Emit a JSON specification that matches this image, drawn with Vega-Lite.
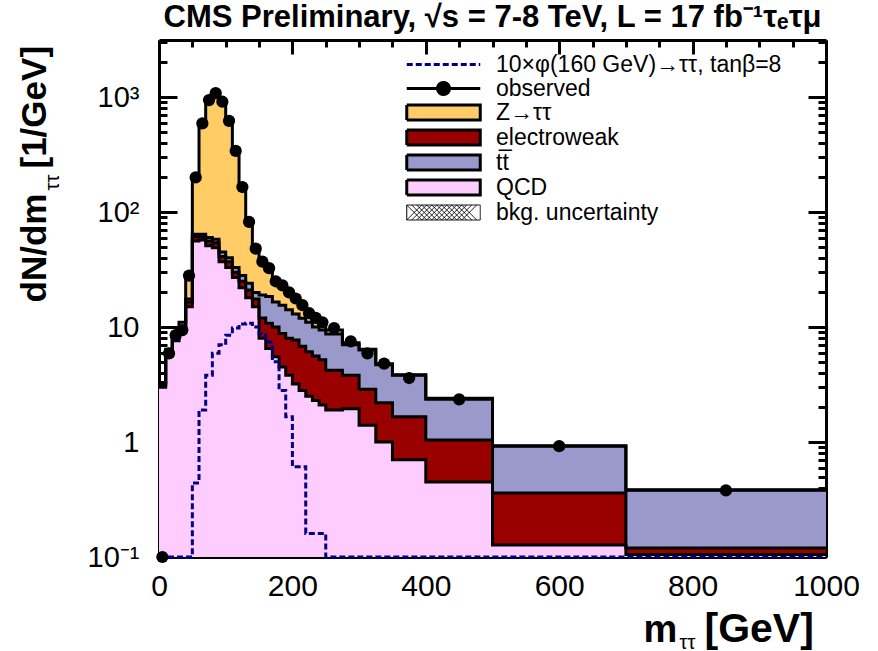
{
  "$schema": "https://vega.github.io/schema/vega-lite/v6.json",
  "width": 667,
  "height": 517,
  "autosize": {"type": "none"},
  "padding": {"left": 159, "top": 40, "right": 52, "bottom": 94},
  "background": "white",
  "view": {"stroke": null},
  "title": {
    "text": "CMS Preliminary, √s = 7-8 TeV, L = 17 fb⁻¹τₑτμ",
    "font": "Liberation Sans",
    "fontWeight": "bold",
    "fontSize": 31,
    "color": "black",
    "anchor": "middle",
    "offset": 5
  },
  "config": {
    "font": "Liberation Sans",
    "axis": {
      "grid": false,
      "tickColor": "black",
      "tickWidth": 3,
      "labelColor": "black",
      "labelFont": "Liberation Sans",
      "labelFlush": false,
      "labelOverlap": false,
      "titleColor": "black",
      "titleFont": "Liberation Sans",
      "titleFontWeight": "bold",
      "domainColor": "black",
      "domainWidth": 3,
      "zindex": 1
    }
  },
  "datasets": {
    "background": [
      {"lo": 0, "hi": 10, "QCD": 3.0, "EW": 0.1, "ttbar": 0.1, "Ztt": 0.1},
      {"lo": 10, "hi": 20, "QCD": 5.6, "EW": 0.2, "ttbar": 0.2, "Ztt": 0.4},
      {"lo": 20, "hi": 30, "QCD": 7.6, "EW": 0.3, "ttbar": 0.3, "Ztt": 0.6},
      {"lo": 30, "hi": 40, "QCD": 9.0, "EW": 0.4, "ttbar": 0.4, "Ztt": 1.2},
      {"lo": 40, "hi": 50, "QCD": 15, "EW": 1.5, "ttbar": 1.0, "Ztt": 10.5},
      {"lo": 50, "hi": 60, "QCD": 56, "EW": 5, "ttbar": 3, "Ztt": 141},
      {"lo": 60, "hi": 70, "QCD": 57, "EW": 4, "ttbar": 3, "Ztt": 526},
      {"lo": 70, "hi": 80, "QCD": 51, "EW": 5, "ttbar": 4, "Ztt": 880},
      {"lo": 80, "hi": 90, "QCD": 49, "EW": 5, "ttbar": 4, "Ztt": 1022},
      {"lo": 90, "hi": 100, "QCD": 37, "EW": 4, "ttbar": 4, "Ztt": 885},
      {"lo": 100, "hi": 110, "QCD": 33, "EW": 4, "ttbar": 3, "Ztt": 600},
      {"lo": 110, "hi": 120, "QCD": 27, "EW": 3, "ttbar": 3, "Ztt": 307},
      {"lo": 120, "hi": 130, "QCD": 22, "EW": 3, "ttbar": 3, "Ztt": 137},
      {"lo": 130, "hi": 140, "QCD": 18, "EW": 3, "ttbar": 3, "Ztt": 60},
      {"lo": 140, "hi": 150, "QCD": 15, "EW": 2.5, "ttbar": 2.5, "Ztt": 30},
      {"lo": 150, "hi": 160, "QCD": 8, "EW": 4, "ttbar": 7, "Ztt": 17},
      {"lo": 160, "hi": 170, "QCD": 6.5, "EW": 4.3, "ttbar": 7.6, "Ztt": 12.6},
      {"lo": 170, "hi": 180, "QCD": 5.5, "EW": 4.5, "ttbar": 6.5, "Ztt": 9.5},
      {"lo": 180, "hi": 190, "QCD": 4.5, "EW": 4.3, "ttbar": 6.7, "Ztt": 7.5},
      {"lo": 190, "hi": 200, "QCD": 3.8, "EW": 4.2, "ttbar": 6.1, "Ztt": 5.9},
      {"lo": 200, "hi": 210, "QCD": 3.2, "EW": 4.5, "ttbar": 5.3, "Ztt": 4.5},
      {"lo": 210, "hi": 220, "QCD": 2.8, "EW": 4.0, "ttbar": 5.1, "Ztt": 3.1},
      {"lo": 220, "hi": 230, "QCD": 2.5, "EW": 3.6, "ttbar": 4.9, "Ztt": 2.0},
      {"lo": 230, "hi": 240, "QCD": 2.3, "EW": 3.3, "ttbar": 4.4, "Ztt": 1.8},
      {"lo": 240, "hi": 250, "QCD": 2.1, "EW": 3.1, "ttbar": 4.2, "Ztt": 1.4},
      {"lo": 250, "hi": 275, "QCD": 1.9, "EW": 2.3, "ttbar": 4.5, "Ztt": 0.7},
      {"lo": 275, "hi": 300, "QCD": 1.95, "EW": 1.85, "ttbar": 3.2, "Ztt": 0.3},
      {"lo": 300, "hi": 325, "QCD": 1.4, "EW": 1.47, "ttbar": 3.43, "Ztt": 0.1},
      {"lo": 325, "hi": 350, "QCD": 1.0, "EW": 1.2, "ttbar": 2.5, "Ztt": 0.1},
      {"lo": 350, "hi": 400, "QCD": 0.7, "EW": 0.96, "ttbar": 2.14, "Ztt": 0.05},
      {"lo": 400, "hi": 500, "QCD": 0.45, "EW": 0.59, "ttbar": 1.31, "Ztt": 0.05},
      {"lo": 500, "hi": 700, "QCD": 0.127, "EW": 0.233, "ttbar": 0.56, "Ztt": 0.01},
      {"lo": 700, "hi": 1000, "QCD": 0.105, "EW": 0.015, "ttbar": 0.26, "Ztt": 0.005}
    ],
    "signal": [
      {"lo": 0, "hi": 10, "v": 0.01}, {"lo": 10, "hi": 20, "v": 0.01},
      {"lo": 20, "hi": 30, "v": 0.01}, {"lo": 30, "hi": 40, "v": 0.01},
      {"lo": 40, "hi": 50, "v": 0.01}, {"lo": 50, "hi": 60, "v": 0.44},
      {"lo": 60, "hi": 70, "v": 1.9}, {"lo": 70, "hi": 80, "v": 3.8},
      {"lo": 80, "hi": 90, "v": 5.9}, {"lo": 90, "hi": 100, "v": 7.0},
      {"lo": 100, "hi": 110, "v": 8.5}, {"lo": 110, "hi": 120, "v": 9.8},
      {"lo": 120, "hi": 130, "v": 10.6}, {"lo": 130, "hi": 140, "v": 10.8},
      {"lo": 140, "hi": 150, "v": 10.0}, {"lo": 150, "hi": 160, "v": 8.8},
      {"lo": 160, "hi": 170, "v": 7.4}, {"lo": 170, "hi": 180, "v": 5.0},
      {"lo": 180, "hi": 190, "v": 2.8}, {"lo": 190, "hi": 200, "v": 1.66},
      {"lo": 200, "hi": 210, "v": 0.61}, {"lo": 210, "hi": 220, "v": 0.61},
      {"lo": 220, "hi": 230, "v": 0.16}, {"lo": 230, "hi": 240, "v": 0.16},
      {"lo": 240, "hi": 250, "v": 0.16}, {"lo": 250, "hi": 275, "v": 0.02},
      {"lo": 275, "hi": 300, "v": 0.01}, {"lo": 300, "hi": 325, "v": 0.01},
      {"lo": 325, "hi": 350, "v": 0.01}, {"lo": 350, "hi": 400, "v": 0.01},
      {"lo": 400, "hi": 500, "v": 0.01}, {"lo": 500, "hi": 700, "v": 0.01},
      {"lo": 700, "hi": 1000, "v": 0.01}
    ],
    "observed": [
      {"m": 5, "n": 0.1}, {"m": 15, "n": 5.9}, {"m": 25, "n": 8.5},
      {"m": 35, "n": 9.4}, {"m": 45, "n": 28}, {"m": 55, "n": 200},
      {"m": 65, "n": 590}, {"m": 75, "n": 940}, {"m": 85, "n": 1080},
      {"m": 95, "n": 910}, {"m": 105, "n": 620}, {"m": 115, "n": 340},
      {"m": 125, "n": 165}, {"m": 135, "n": 82}, {"m": 145, "n": 48},
      {"m": 155, "n": 37}, {"m": 165, "n": 32.5}, {"m": 175, "n": 25},
      {"m": 185, "n": 23}, {"m": 195, "n": 20}, {"m": 205, "n": 17.7},
      {"m": 215, "n": 15.5}, {"m": 225, "n": 13.2}, {"m": 235, "n": 12},
      {"m": 245, "n": 11}, {"m": 262.5, "n": 9.8}, {"m": 287.5, "n": 7.5},
      {"m": 312.5, "n": 5.9}, {"m": 337.5, "n": 4.8}, {"m": 375, "n": 3.6},
      {"m": 450, "n": 2.35}, {"m": 600, "n": 0.92}, {"m": 850, "n": 0.38}
    ]
  },
  "resolve": {"axis": {"x": "independent", "y": "independent"}},
  "layer": [
    {
      "data": {"name": "background"},
      "transform": [
        {"fold": ["QCD", "EW", "ttbar", "Ztt"], "as": ["process", "v"]},
        {"stack": "v", "groupby": ["lo"], "as": ["below", "top"]},
        {"fold": ["lo", "hi"], "as": ["side", "m"]}
      ],
      "resolve": {"axis": {"x": "independent", "y": "independent"}},
      "encoding": {
        "color": {
          "field": "process",
          "type": "nominal",
          "scale": {
            "domain": ["signal", "observed", "Ztt", "EW", "ttbar", "QCD", "unc"],
            "range": ["transparent", "black", "#FFCC66", "#990000", "#9999CC", "#FFCCFF", "white"]
          },
          "legend": {
            "orient": "none",
            "legendX": 246,
            "legendY": 13,
            "title": null,
            "direction": "vertical",
            "padding": 0,
            "symbolSize": 400,
            "symbolOffset": 27,
            "labelOffset": 41,
            "labelFont": "Liberation Sans",
            "labelFontSize": 23,
            "labelColor": "black",
            "labelLimit": 400,
            "rowPadding": -5,
            "labelExpr": "datum.value === 'signal' ? '10×φ(160 GeV)→ττ, tanβ=8' : datum.value === 'Ztt' ? 'Z→ττ' : datum.value === 'EW' ? 'electroweak' : datum.value === 'ttbar' ? 'tt̅' : datum.value === 'unc' ? 'bkg. uncertainty' : datum.label",
            "encode": {
              "symbols": {
                "update": {
                  "shape": {"signal": "datum.value === 'signal' ? 'M-3.675,0H3.675' : datum.value === 'observed' ? 'M-3.675,0H3.675M-0.6,0A0.6,0.6,0,1,1,0.6,0A0.6,0.6,0,1,1,-0.6,0Z' : datum.value === 'unc' ? 'M-3.675,-0.75H3.675V0.75H-3.675ZM-3.675,-0.75L-2.175,0.75M-3.175,-0.75L-1.675,0.75M-2.675,-0.75L-1.175,0.75M-2.175,-0.75L-0.675,0.75M-1.675,-0.75L-0.175,0.75M-1.175,-0.75L0.325,0.75M-0.675,-0.75L0.825,0.75M-0.175,-0.75L1.325,0.75M0.325,-0.75L1.825,0.75M0.825,-0.75L2.325,0.75M1.325,-0.75L2.825,0.75M1.825,-0.75L3.325,0.75M-3.675,0.75L-2.175,-0.75M-3.175,0.75L-1.675,-0.75M-2.675,0.75L-1.175,-0.75M-2.175,0.75L-0.675,-0.75M-1.675,0.75L-0.175,-0.75M-1.175,0.75L0.325,-0.75M-0.675,0.75L0.825,-0.75M-0.175,0.75L1.325,-0.75M0.325,0.75L1.825,-0.75M0.825,0.75L2.325,-0.75M1.325,0.75L2.825,-0.75M1.825,0.75L3.325,-0.75' : 'M-3.675,-0.75H3.675V0.75H-3.675Z'"},
                  "stroke": {"signal": "datum.value === 'signal' ? '#000080' : 'black'"},
                  "strokeWidth": {"signal": "datum.value === 'unc' ? 1 : 3"},
                  "strokeDash": {"signal": "datum.value === 'signal' ? [6, 3] : [1, 0]"},
                  "opacity": {"value": 1}
                }
              }
            }
          }
        }
      },
      "layer": [
        {
          "transform": [{"filter": "datum.process === 'Ztt'"}],
          "mark": {"type": "area", "interpolate": "linear"},
          "encoding": {
            "x": {
              "field": "m", "type": "quantitative",
              "scale": {"domain": [0, 1000], "nice": false, "zero": false},
              "axis": {
                "orient": "bottom", "values": [0, 200, 400, 600, 800, 1000], "format": "d",
                "tickSize": -14, "labelFontSize": 30, "labelPadding": 28,
                "domain": true,
                "title": "m", "titleFontSize": 38, "titleX": 484, "titleY": 84,
                "titleAlign": "left", "titleBaseline": "alphabetic"
              }
            },
            "y": {
              "field": "top", "type": "quantitative", "stack": null,
              "scale": {"type": "log", "domain": [0.1, 3133], "nice": false, "clamp": true},
              "axis": {
                "orient": "left", "values": [0.1, 1, 10, 100, 1000],
                "tickSize": -18, "labelFontSize": 29, "labelPadding": 38,
                "labelExpr": "datum.value >= 999 ? '10³' : datum.value >= 99 ? '10²' : datum.value >= 9 ? '10' : datum.value >= 0.9 ? '1' : '10⁻¹'",
                "domain": true,
                "title": "dN/dm", "titleFontSize": 35, "titleAngle": -90,
                "titleX": -114, "titleY": 262, "titleAlign": "left", "titleBaseline": "alphabetic"
              }
            }
          }
        },
        {
          "transform": [{"filter": "datum.process === 'ttbar'"}],
          "mark": {"type": "area", "interpolate": "linear"},
          "encoding": {
            "x": {
              "field": "m", "type": "quantitative",
              "axis": {
                "orient": "bottom",
                "values": [50, 100, 150, 250, 300, 350, 450, 500, 550, 650, 700, 750, 850, 900, 950],
                "tickSize": -7, "labels": false, "domain": false,
                "title": "ττ", "titleFontSize": 20, "titleFontWeight": "normal",
                "titleX": 520, "titleY": 91, "titleAlign": "left", "titleBaseline": "alphabetic"
              }
            },
            "y": {
              "field": "top", "type": "quantitative", "stack": null,
              "axis": {
                "orient": "left",
                "values": [0.2, 0.3, 0.4, 0.5, 0.6, 0.7, 0.8, 0.9, 2, 3, 4, 5, 6, 7, 8, 9, 20, 30, 40, 50, 60, 70, 80, 90, 200, 300, 400, 500, 600, 700, 800, 900, 2000, 3000],
                "tickSize": -8, "labels": false, "domain": false,
                "title": "ττ", "titleFontSize": 20, "titleFontWeight": "normal", "titleAngle": -90,
                "titleX": -101, "titleY": 150, "titleAlign": "left", "titleBaseline": "alphabetic"
              }
            }
          }
        },
        {
          "transform": [{"filter": "datum.process === 'EW'"}],
          "mark": {"type": "area", "interpolate": "linear"},
          "encoding": {
            "x": {
              "field": "m", "type": "quantitative",
              "axis": {
                "orient": "top", "values": [0, 200, 400, 600, 800, 1000],
                "tickSize": -14, "labels": false, "domain": true,
                "title": "[GeV]", "titleFontSize": 41, "titleX": 545, "titleY": 601,
                "titleAlign": "left", "titleBaseline": "alphabetic"
              }
            },
            "y": {
              "field": "top", "type": "quantitative", "stack": null,
              "axis": {
                "orient": "right", "values": [0.1, 1, 10, 100, 1000],
                "tickSize": -18, "labels": false, "domain": true,
                "title": "[1/GeV]", "titleFontSize": 35, "titleAngle": -90,
                "titleX": -781, "titleY": 128, "titleAlign": "left", "titleBaseline": "alphabetic"
              }
            }
          }
        },
        {
          "transform": [{"filter": "datum.process === 'QCD'"}],
          "mark": {"type": "area", "interpolate": "linear"},
          "encoding": {
            "x": {
              "field": "m", "type": "quantitative",
              "axis": {
                "orient": "top",
                "values": [50, 100, 150, 250, 300, 350, 450, 500, 550, 650, 700, 750, 850, 900, 950],
                "tickSize": -7, "labels": false, "domain": false, "title": null
              }
            },
            "y": {
              "field": "top", "type": "quantitative", "stack": null,
              "axis": {
                "orient": "right",
                "values": [0.2, 0.3, 0.4, 0.5, 0.6, 0.7, 0.8, 0.9, 2, 3, 4, 5, 6, 7, 8, 9, 20, 30, 40, 50, 60, 70, 80, 90, 200, 300, 400, 500, 600, 700, 800, 900, 2000, 3000],
                "tickSize": -8, "labels": false, "domain": false, "title": null
              }
            }
          }
        },
        {
          "mark": {"type": "line", "strokeWidth": 3, "strokeJoin": "miter", "interpolate": "linear"},
          "encoding": {
            "x": {"field": "m", "type": "quantitative", "axis": null},
            "y": {"field": "top", "type": "quantitative", "stack": null, "axis": null},
            "detail": {"field": "process", "type": "nominal"},
            "order": [{"field": "m", "type": "quantitative"}, {"field": "side", "type": "nominal"}],
            "color": {"value": "black"}
          }
        }
      ]
    },
    {
      "data": {"name": "signal"},
      "transform": [{"fold": ["lo", "hi"], "as": ["side", "m"]}],
      "mark": {"type": "line", "color": "#000080", "strokeWidth": 3, "strokeDash": [6, 3], "interpolate": "linear"},
      "encoding": {
        "x": {"field": "m", "type": "quantitative", "axis": null},
        "y": {"field": "v", "type": "quantitative", "axis": null},
        "order": [{"field": "m", "type": "quantitative"}, {"field": "side", "type": "nominal"}]
      }
    },
    {
      "data": {"name": "observed"},
      "mark": {"type": "circle", "size": 150, "color": "black", "opacity": 1},
      "encoding": {
        "x": {"field": "m", "type": "quantitative", "axis": null},
        "y": {"field": "n", "type": "quantitative", "axis": null}
      }
    }
  ]
}
